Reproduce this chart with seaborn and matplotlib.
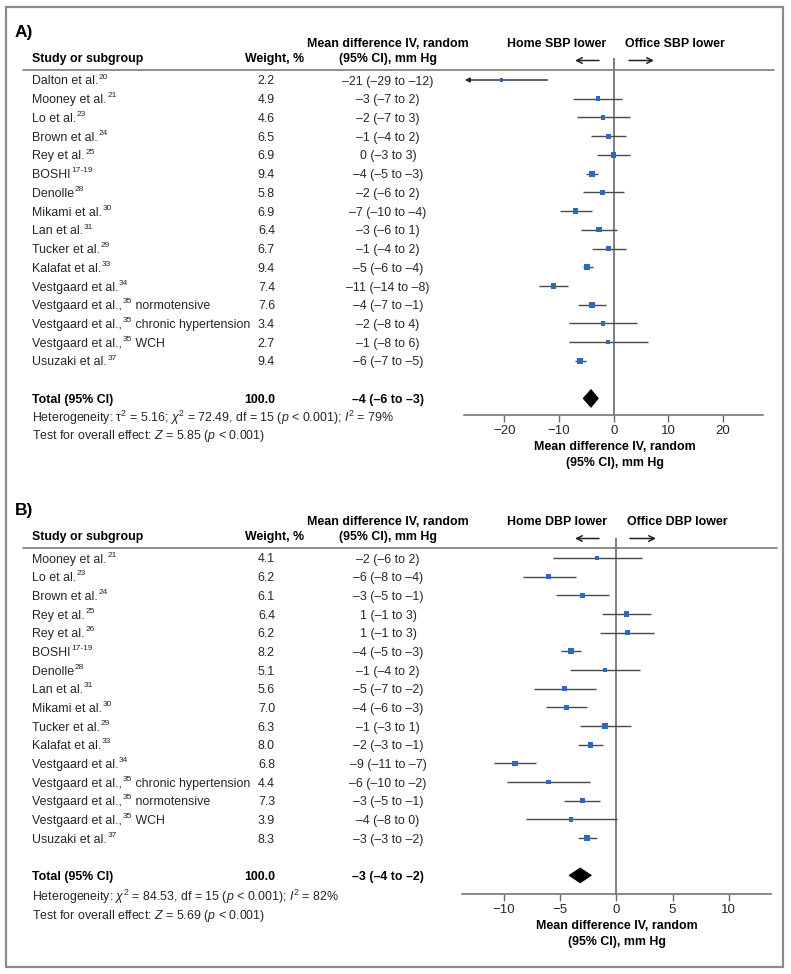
import numpy as np
import pandas as pd
import matplotlib
matplotlib.use("Agg")
import matplotlib.pyplot as plt
import matplotlib.transforms as mtransforms
from matplotlib.patches import Rectangle, Polygon, FancyArrowPatch
from matplotlib.lines import Line2D
import seaborn as sns

sns.set_theme(style="white")
plt.rcParams['font.family'] = ['Liberation Sans', 'DejaVu Sans']
plt.rcParams['mathtext.fontset'] = 'custom'
plt.rcParams['mathtext.rm'] = 'Liberation Sans'
plt.rcParams['mathtext.it'] = 'Liberation Sans:italic'
plt.rcParams['mathtext.bf'] = 'Liberation Sans:bold'

# ---------------- Panel A data (SBP) ----------------
# study names as (text, superscript reference, trailing text)
studies_a = [("Dalton et al.", "20", ""), ("Mooney et al.", "21", ""), ("Lo et al.", "23", ""),
             ("Brown et al.", "24", ""), ("Rey et al.", "25", ""), ("BOSHI", "17-19", ""),
             ("Denolle", "28", ""), ("Mikami et al.", "30", ""), ("Lan et al.", "31", ""),
             ("Tucker et al.", "29", ""), ("Kalafat et al.", "33", ""), ("Vestgaard et al.", "34", ""),
             ("Vestgaard et al.,", "35", " normotensive"),
             ("Vestgaard et al.,", "35", " chronic hypertension"),
             ("Vestgaard et al.,", "35", " WCH"), ("Usuzaki et al.", "37", "")]
weights_a = [2.2, 4.9, 4.6, 6.5, 6.9, 9.4, 5.8, 6.9, 6.4, 6.7, 9.4, 7.4, 7.6, 3.4, 2.7, 9.4]
md_text_a = ["–21 (–29 to –12)", "–3 (–7 to 2)", "–2 (–7 to 3)", "–1 (–4 to 2)", "0 (–3 to 3)",
             "–4 (–5 to –3)", "–2 (–6 to 2)", "–7 (–10 to –4)", "–3 (–6 to 1)", "–1 (–4 to 2)",
             "–5 (–6 to –4)", "–11 (–14 to –8)", "–4 (–7 to –1)", "–2 (–8 to 4)", "–1 (–8 to 6)",
             "–6 (–7 to –5)"]
est_a = [-20.5, -2.9, -2.0, -1.0, -0.1, -4.0, -2.0, -7.0, -2.7, -1.0, -4.8, -11.0, -4.0, -2.0, -1.0, -6.1]
lo_a = [-29.0, -7.4, -6.8, -4.2, -3.0, -5.1, -5.7, -9.9, -6.0, -4.0, -5.7, -13.6, -6.5, -8.1, -8.2, -7.1]
hi_a = [-12.1, 1.6, 2.9, 2.2, 2.9, -2.9, 1.8, -4.0, 0.6, 2.2, -3.7, -8.4, -1.5, 4.2, 6.3, -5.1]
total_a = {"weight": "100.0", "text": "–4 (–6 to –3)", "est": -4.15, "lo": -5.6, "hi": -2.8}
het_a = "Heterogeneity: τ$^2$ = 5.16; $χ^2$ = 72.49, df = 15 ($p$ < 0.001); $I^2$ = 79%"
test_a = "Test for overall effect: $Z$ = 5.85 ($p$ < 0.001)"
ticks_a = [-20, -10, 0, 10, 20]

# ---------------- Panel B data (DBP) ----------------
studies_b = [("Mooney et al.", "21", ""), ("Lo et al.", "23", ""), ("Brown et al.", "24", ""),
             ("Rey et al.", "25", ""), ("Rey et al.", "26", ""), ("BOSHI", "17-19", ""),
             ("Denolle", "28", ""), ("Lan et al.", "31", ""), ("Mikami et al.", "30", ""),
             ("Tucker et al.", "29", ""), ("Kalafat et al.", "33", ""), ("Vestgaard et al.", "34", ""),
             ("Vestgaard et al.,", "35", " chronic hypertension"),
             ("Vestgaard et al.,", "35", " normotensive"),
             ("Vestgaard et al.,", "35", " WCH"), ("Usuzaki et al.", "37", "")]
weights_b = [4.1, 6.2, 6.1, 6.4, 6.2, 8.2, 5.1, 5.6, 7.0, 6.3, 8.0, 6.8, 4.4, 7.3, 3.9, 8.3]
md_text_b = ["–2 (–6 to 2)", "–6 (–8 to –4)", "–3 (–5 to –1)", "1 (–1 to 3)", "1 (–1 to 3)",
             "–4 (–5 to –3)", "–1 (–4 to 2)", "–5 (–7 to –2)", "–4 (–6 to –3)", "–1 (–3 to 1)",
             "–2 (–3 to –1)", "–9 (–11 to –7)", "–6 (–10 to –2)", "–3 (–5 to –1)", "–4 (–8 to 0)",
             "–3 (–3 to –2)"]
est_b = [-1.7, -6.0, -3.0, 0.9, 1.0, -4.0, -1.0, -4.6, -4.4, -1.0, -2.3, -9.0, -6.0, -3.0, -4.0, -2.6]
lo_b = [-5.6, -8.3, -5.35, -1.3, -1.4, -4.9, -4.1, -7.3, -6.2, -3.25, -3.4, -10.9, -9.7, -4.6, -8.05, -3.4]
hi_b = [2.25, -3.6, -0.6, 3.1, 3.4, -3.1, 2.1, -1.8, -2.6, 1.3, -1.2, -7.1, -2.3, -1.4, 0.1, -1.75]
total_b = {"weight": "100.0", "text": "–3 (–4 to –2)", "est": -3.2, "lo": -4.2, "hi": -2.2}
het_b = "Heterogeneity: $χ^2$ = 84.53, df = 15 ($p$ < 0.001); $I^2$ = 82%"
test_b = "Test for overall effect: $Z$ = 5.69 ($p$ < 0.001)"
ticks_b = [-10, -5, 0, 5, 10]

W, H = 791, 974
fig = plt.figure(figsize=(W / 100, H / 100), dpi=100)
fig.patch.set_facecolor("white")
renderer = fig.canvas.get_renderer()


def fx(px):
    return px / W


def fy(py):
    return 1 - py / H


TXT = "#262626"
BLUE = "#2e6abb"
LINE = "#4a4a4a"
FS = 8.9
SUP = 6.0

# outer frame
fig.add_artist(Rectangle((fx(6), fy(967)), fx(783) - fx(6), fy(7) - fy(967), fill=False,
                         edgecolor="#8a8a8a", lw=1.6, transform=fig.transFigure))


def name_text(x_px, row, parts, bt):
    pre, sup, post = parts
    t1 = fig.text(fx(x_px), row, pre, transform=bt, ha="left", va="center_baseline",
                  fontsize=FS, color=TXT)
    x1 = t1.get_window_extent(renderer).x1 + 0.6
    sup_tr = mtransforms.offset_copy(bt, fig=fig, x=0, y=3.8, units="dots")
    t2 = fig.text(x1 / W, row, sup, transform=sup_tr, ha="left", va="center_baseline",
                  fontsize=SUP, color=TXT)
    if post:
        x2 = t2.get_window_extent(renderer).x1
        fig.text(x2 / W, row, post, transform=bt, ha="left", va="center_baseline",
                 fontsize=FS, color=TXT)


def panel(cfg):
    ax = fig.add_axes([fx(cfg["ax_l"]), fy(cfg["ax_b"]), fx(cfg["ax_r"]) - fx(cfg["ax_l"]),
                       (cfg["ax_b"] - cfg["ax_t"]) / H])
    row0, step = cfg["row0"], cfg["step"]
    ax.set_ylim((cfg["ax_b"] - row0) / step, (cfg["ax_t"] - row0) / step)
    xmin, xmax = cfg["xlim"]
    ax.set_xlim(xmin, xmax)
    ax.patch.set_alpha(0)
    for s in ["top", "left", "right"]:
        ax.spines[s].set_visible(False)
    ax.spines["bottom"].set_color("#6a6a6a")
    ax.spines["bottom"].set_linewidth(1.1)
    ax.set_yticks([])
    ax.set_xticks(cfg["ticks"])
    ax.set_xticklabels([str(t).replace("-", "\u2212") for t in cfg["ticks"]])
    ax.tick_params(axis="x", direction="out", length=5, width=1, color="#6a6a6a",
                   labelsize=9.5, labelcolor=TXT, pad=2, bottom=True)
    ax.grid(False)

    n = len(cfg["est"])
    rows = np.arange(n)
    df = pd.DataFrame({"row": rows, "est": cfg["est"], "lo": cfg["lo"], "hi": cfg["hi"],
                       "weight": cfg["weights"]})

    # zero line
    ax.axvline(0, color="#6a6a6a", lw=1.2, zorder=1)

    # CI lines
    inside = df[df["lo"] >= xmin]
    ax.hlines(inside["row"], inside["lo"], inside["hi"], color=LINE, lw=1.0, zorder=2)
    for _, r in df[df["lo"] < xmin].iterrows():
        ax.annotate("", xy=(xmin + 0.15, r["row"]), xytext=(r["hi"], r["row"]),
                    arrowprops=dict(arrowstyle="-|>", color="#222222", lw=1.0, mutation_scale=7,
                                    shrinkA=0, shrinkB=0), zorder=2)

    sns.scatterplot(data=df, x="est", y="row", size="weight", sizes=(6, 20), size_norm=(2, 10),
                    marker="s", color=BLUE, edgecolor="none", linewidth=0, legend=False,
                    ax=ax, zorder=3)
    ax.set_xlabel("")
    ax.set_ylabel("")

    # total diamond
    t = cfg["total"]
    tr = n + 1
    hh = cfg["dh"]
    ax.add_patch(Polygon([(t["lo"], tr), (t["est"], tr - hh), (t["hi"], tr), (t["est"], tr + hh)],
                         closed=True, facecolor="black", edgecolor="black", lw=0.5, zorder=4))

    # table texts (x in figure, y in rows)
    bt = mtransforms.blended_transform_factory(fig.transFigure, ax.transData)
    for i in range(n):
        name_text(32, i, cfg["studies"][i], bt)
        fig.text(fx(275), i, f"{cfg['weights'][i]:.1f}", transform=bt, ha="right",
                 va="center_baseline", fontsize=FS, color=TXT)
        fig.text(fx(388), i, cfg["md"][i], transform=bt, ha="center", va="center_baseline",
                 fontsize=FS, color=TXT)
    fig.text(fx(32), tr, "Total (95% CI)", transform=bt, ha="left", va="center_baseline",
             fontsize=FS, fontweight="bold", color="black")
    fig.text(fx(275), tr, t["weight"], transform=bt, ha="right", va="center_baseline",
             fontsize=FS, fontweight="bold", color="black")
    fig.text(fx(388), tr, t["text"], transform=bt, ha="center", va="center_baseline",
             fontsize=FS, fontweight="bold", color="black")

    # headers
    hy = cfg["hdr"]
    fig.text(fx(15), fy(hy - 26), cfg["label"], ha="left", va="center", fontsize=12.5,
             fontweight="bold", color="black")
    fig.text(fx(32), fy(hy), "Study or subgroup", ha="left", va="center", fontsize=FS,
             fontweight="bold", color="black")
    fig.text(fx(275), fy(hy), "Weight, %", ha="center", va="center", fontsize=FS,
             fontweight="bold", color="black")
    fig.text(fx(388), fy(hy - 15), "Mean difference IV, random", ha="center", va="center",
             fontsize=FS, fontweight="bold", color="black")
    fig.text(fx(388), fy(hy), "(95% CI), mm Hg", ha="center", va="center", fontsize=FS,
             fontweight="bold", color="black")
    fig.text(fx(557), fy(hy - 15), cfg["left_lbl"], ha="center", va="center", fontsize=FS,
             fontweight="bold", color="black")
    fig.text(fx(cfg["right_x"]), fy(hy - 15), cfg["right_lbl"], ha="center", va="center",
             fontsize=FS, fontweight="bold", color="black")
    ay = hy + 1.5
    for x0, x1 in cfg["arrows"]:
        fig.add_artist(FancyArrowPatch((fx(x0), fy(ay)), (fx(x1), fy(ay)), transform=fig.transFigure,
                                       arrowstyle="->", mutation_scale=10, lw=1.1, color="#222222",
                                       shrinkA=0, shrinkB=0))
    fig.add_artist(Line2D([fx(23), fx(cfg["line_r"])], [fy(hy + 10.5), fy(hy + 10.5)],
                          transform=fig.transFigure, color="#7a7a7a", lw=1.2))

    # footer texts
    fig.text(fx(32), fy(cfg["het_y"]), cfg["het"], ha="left", va="center", fontsize=FS, color=TXT)
    fig.text(fx(32), fy(cfg["het_y"] + 18.5), cfg["test"], ha="left", va="center", fontsize=FS,
             color=TXT)

    # axis title
    fig.text(fx(cfg["xl_x"]), fy(cfg["ax_b"] + 32), "Mean difference IV, random", ha="center",
             va="center", fontsize=FS, fontweight="bold", color="black")
    fig.text(fx(cfg["xl_x"]), fy(cfg["ax_b"] + 48), "(95% CI), mm Hg", ha="center", va="center",
             fontsize=FS, fontweight="bold", color="black")
    return ax


panel(dict(studies=studies_a, weights=weights_a, md=md_text_a, est=est_a, lo=lo_a, hi=hi_a,
           total=total_a, het=het_a, test=test_a, ticks=ticks_a, label="A)",
           ax_l=464, ax_r=763, ax_t=58, ax_b=415, row0=80, step=18.73, xlim=(-27.37, 27.29),
           dh=0.48, hdr=59, left_lbl="Home SBP lower", right_lbl="Office SBP lower", right_x=675,
           arrows=[(599, 575), (629, 654)], line_r=774, het_y=418, xl_x=615))

panel(dict(studies=studies_b, weights=weights_b, md=md_text_b, est=est_b, lo=lo_b, hi=hi_b,
           total=total_b, het=het_b, test=test_b, ticks=ticks_b, label="B)",
           ax_l=462, ax_r=771, ax_t=538, ax_b=894, row0=558, step=18.67, xlim=(-13.7, 13.75),
           dh=0.4, hdr=537, left_lbl="Home DBP lower", right_lbl="Office DBP lower", right_x=677,
           arrows=[(599, 575), (630, 656)], line_r=777, het_y=897, xl_x=617))

fig.savefig("out.png", dpi=100, facecolor="white")
